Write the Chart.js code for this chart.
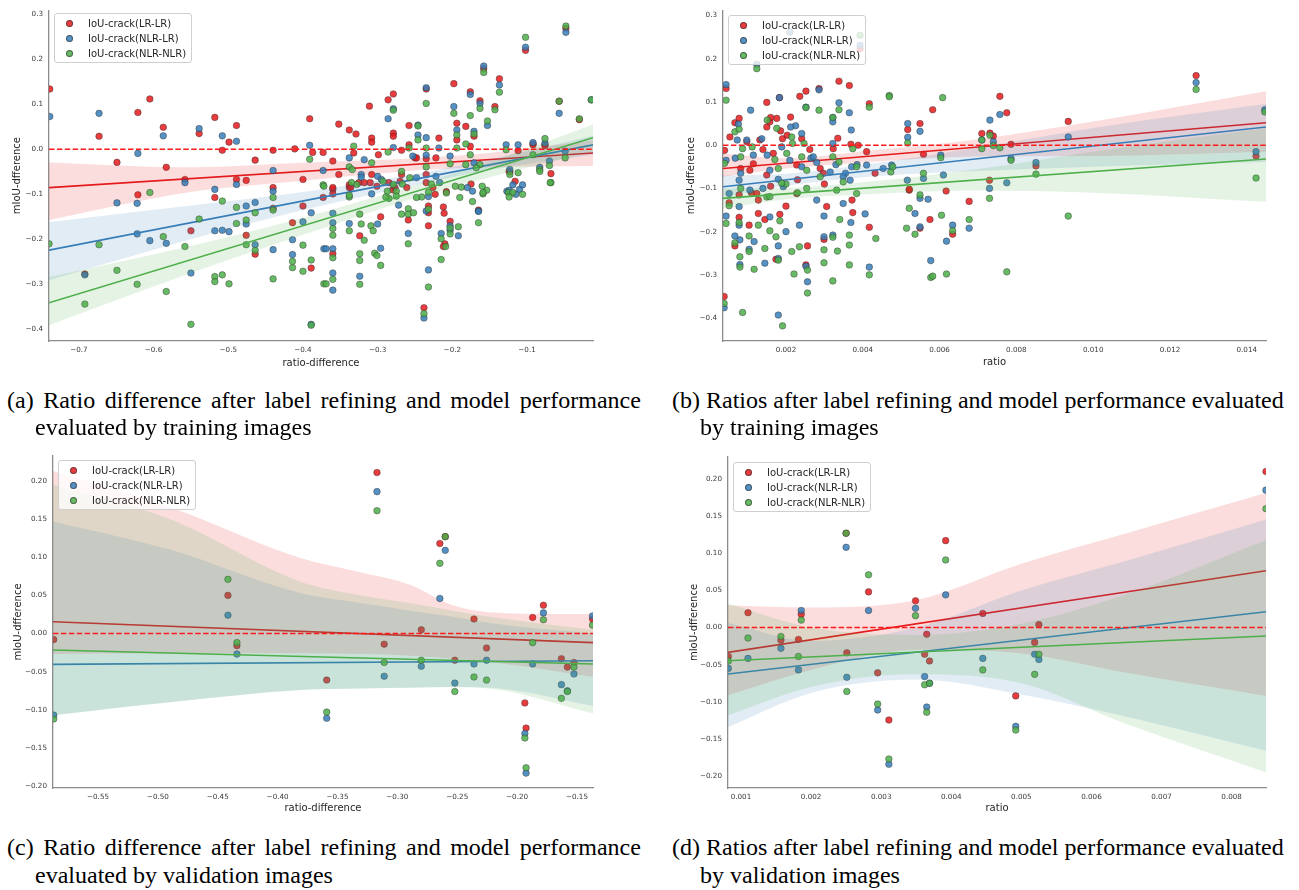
<!DOCTYPE html>
<html><head><meta charset="utf-8">
<script src="https://cdn.jsdelivr.net/npm/chart.js@4.4.1/dist/chart.umd.min.js"></script>
<style>
html,body{margin:0;padding:0;background:#fff;}
body{width:1299px;height:890px;position:relative;overflow:hidden;}
canvas{position:absolute;}
.legend{position:absolute;background:rgba(255,255,255,0.8);border:1px solid #cfcfcf;border-radius:3px;box-sizing:border-box;font:10px "DejaVu Sans";color:#262626;z-index:2;width:138px;height:50px;}
.legend .dot{position:absolute;width:7px;height:7px;border-radius:50%;box-sizing:border-box;border:0.6px solid rgba(40,40,40,0.6);}
.legend .txt{position:absolute;white-space:nowrap;line-height:12px;}
.cap{position:absolute;font-family:"Liberation Serif","Times New Roman",serif;font-size:24px;color:#000;white-space:nowrap;line-height:27px;}
</style>
</head><body>
<script>
// ---------- shared ----------
const seriesNames = ['IoU-crack(LR-LR)', 'IoU-crack(NLR-LR)', 'IoU-crack(NLR-NLR)'];
const yTitle = 'mIoU-dfference';

// ---------- (a) training images: ratio-difference ----------
const aXRange = [-0.740, -0.0117];
const aYRange = [-0.426, 0.309];
const aXTicks = [-0.7, -0.6, -0.5, -0.4, -0.3, -0.2, -0.1];
const aYTicks = [-0.4, -0.3, -0.2, -0.1, 0.0, 0.1, 0.2, 0.3];
const aRed = [[-0.739,0.134],[-0.673,0.029],[-0.649,-0.029],[-0.621,0.082],[-0.621,-0.101],[-0.605,0.112],[-0.587,0.049],[-0.583,-0.040],[-0.558,-0.067],[-0.539,0.035],[-0.518,0.071],[-0.518,-0.107],[-0.508,-0.002],[-0.499,0.016],[-0.489,0.053],[-0.489,-0.067],[-0.476,-0.069],[-0.464,-0.024],[-0.440,-0.085],[-0.440,-0.002],[-0.411,0.001],[-0.400,-0.067],[-0.391,0.068],[-0.387,-0.007],[-0.373,-0.007],[-0.373,-0.107],[-0.692,-0.277],[-0.550,-0.181],[-0.476,-0.191],[-0.464,-0.233],[-0.440,-0.131],[-0.414,-0.163],[-0.400,-0.126],[-0.389,-0.264],[-0.360,-0.026],[-0.360,-0.089],[-0.360,-0.099],[-0.352,0.056],[-0.352,-0.056],[-0.338,0.043],[-0.332,-0.008],[-0.329,0.034],[-0.311,0.096],[-0.308,0.025],[-0.308,0.016],[-0.308,-0.056],[-0.299,-0.012],[-0.286,0.110],[-0.279,0.123],[-0.279,0.036],[-0.279,0.029],[-0.268,-0.002],[-0.268,-0.056],[-0.258,0.053],[-0.258,0.010],[-0.250,-0.019],[-0.235,0.134],[-0.235,-0.021],[-0.235,-0.056],[-0.222,-0.019],[-0.218,0.025],[-0.198,0.146],[-0.194,0.058],[-0.194,0.021],[-0.182,0.051],[-0.176,0.128],[-0.176,0.007],[-0.171,0.029],[-0.163,0.108],[-0.158,0.179],[-0.143,0.095],[-0.137,0.157],[-0.123,-0.050],[-0.112,-0.003],[-0.102,0.220],[-0.092,0.012],[-0.076,0.010],[-0.068,-0.054],[-0.057,0.107],[-0.048,0.269],[-0.030,0.066],[-0.175,-0.077],[-0.208,-0.094],[-0.235,-0.074],[-0.261,-0.085],[-0.310,-0.074],[-0.325,-0.074],[-0.338,-0.085],[-0.360,-0.232],[-0.338,-0.079],[-0.324,-0.192],[-0.296,-0.150],[-0.280,-0.090],[-0.259,-0.157],[-0.238,-0.352],[-0.232,-0.170],[-0.232,-0.126],[-0.210,-0.210],[-0.203,-0.160],[-0.212,-0.128],[-0.165,-0.135],[-0.116,-0.071],[-0.223,-0.100],[-0.226,-0.085],[-0.270,-0.071],[-0.285,-0.074],[-0.301,-0.082],[-0.318,-0.074],[-0.336,-0.085],[-0.360,-0.085],[-0.248,-0.019],[-0.124,-0.049],[-0.092,0.010],[-0.076,0.008],[-0.277,-0.085],[-0.232,-0.141],[-0.212,-0.216],[-0.211,-0.142]];
const aBlue = [[-0.739,0.073],[-0.673,0.080],[-0.621,-0.009],[-0.587,0.030],[-0.558,-0.074],[-0.539,0.046],[-0.518,-0.089],[-0.508,0.030],[-0.489,0.018],[-0.489,-0.078],[-0.440,-0.093],[-0.440,-0.047],[-0.391,0.009],[-0.373,-0.047],[-0.692,-0.279],[-0.649,-0.119],[-0.622,-0.120],[-0.622,-0.188],[-0.605,-0.203],[-0.583,-0.209],[-0.550,-0.275],[-0.518,-0.181],[-0.508,-0.180],[-0.499,-0.183],[-0.476,-0.126],[-0.476,-0.166],[-0.464,-0.118],[-0.464,-0.212],[-0.440,-0.223],[-0.414,-0.234],[-0.414,-0.201],[-0.400,-0.161],[-0.389,-0.389],[-0.389,-0.141],[-0.372,-0.221],[-0.338,-0.019],[-0.322,-0.056],[-0.318,-0.023],[-0.308,-0.099],[-0.286,0.068],[-0.279,0.090],[-0.279,0.004],[-0.253,-0.015],[-0.248,-0.063],[-0.246,0.054],[-0.246,0.032],[-0.235,0.137],[-0.235,0.026],[-0.235,-0.013],[-0.203,-0.015],[-0.198,0.095],[-0.194,0.043],[-0.176,0.122],[-0.171,0.040],[-0.171,-0.030],[-0.163,0.102],[-0.158,0.185],[-0.153,0.053],[-0.137,0.143],[-0.128,0.010],[-0.123,-0.045],[-0.112,0.010],[-0.102,0.227],[-0.092,0.015],[-0.083,-0.040],[-0.076,0.014],[-0.070,-0.026],[-0.057,0.080],[-0.049,-0.004],[-0.048,0.260],[-0.014,0.110],[-0.119,-0.079],[-0.127,-0.093],[-0.180,-0.085],[-0.222,-0.060],[-0.300,-0.060],[-0.360,-0.221],[-0.360,-0.142],[-0.360,-0.163],[-0.360,-0.275],[-0.360,-0.313],[-0.369,-0.221],[-0.338,-0.165],[-0.324,-0.282],[-0.296,-0.220],[-0.272,-0.124],[-0.259,-0.187],[-0.232,-0.268],[-0.238,-0.375],[-0.232,-0.105],[-0.215,-0.187],[-0.203,-0.170],[-0.192,-0.192],[-0.173,-0.093],[-0.165,-0.137],[-0.124,-0.091],[-0.110,-0.089],[-0.106,-0.079],[-0.217,-0.074],[-0.295,-0.067],[-0.322,-0.062],[-0.218,0.003],[-0.300,-0.166],[-0.235,-0.137],[-0.203,-0.180],[-0.165,-0.138],[-0.115,-0.100]];
const aGreen = [[-0.605,-0.096],[-0.508,-0.115],[-0.440,-0.107],[-0.391,-0.022],[-0.373,-0.079],[-0.740,-0.210],[-0.692,-0.344],[-0.673,-0.212],[-0.649,-0.269],[-0.622,-0.300],[-0.587,-0.194],[-0.583,-0.316],[-0.558,-0.216],[-0.550,-0.389],[-0.539,-0.155],[-0.518,-0.283],[-0.518,-0.294],[-0.508,-0.279],[-0.499,-0.299],[-0.489,-0.129],[-0.489,-0.165],[-0.476,-0.157],[-0.476,-0.212],[-0.464,-0.141],[-0.464,-0.225],[-0.440,-0.288],[-0.440,-0.135],[-0.414,-0.263],[-0.414,-0.249],[-0.400,-0.213],[-0.400,-0.271],[-0.389,-0.246],[-0.389,-0.391],[-0.372,-0.082],[-0.372,-0.299],[-0.338,-0.039],[-0.332,0.007],[-0.308,-0.030],[-0.293,-0.071],[-0.286,-0.006],[-0.279,0.087],[-0.268,-0.049],[-0.258,0.003],[-0.246,0.052],[-0.246,0.021],[-0.235,0.102],[-0.235,0.003],[-0.235,-0.039],[-0.203,-0.032],[-0.198,0.080],[-0.194,0.032],[-0.194,0.003],[-0.182,0.012],[-0.182,-0.034],[-0.176,0.075],[-0.176,-0.012],[-0.171,0.034],[-0.163,0.091],[-0.163,-0.034],[-0.158,0.171],[-0.153,0.063],[-0.143,0.088],[-0.137,0.127],[-0.128,-0.001],[-0.123,-0.056],[-0.112,-0.052],[-0.102,0.249],[-0.092,-0.012],[-0.083,-0.045],[-0.076,0.024],[-0.070,-0.036],[-0.068,-0.074],[-0.057,0.107],[-0.048,0.274],[-0.049,-0.019],[-0.030,0.068],[-0.014,0.110],[-0.154,-0.091],[-0.208,-0.097],[-0.338,-0.106],[-0.125,-0.096],[-0.119,-0.096],[-0.360,-0.241],[-0.360,-0.191],[-0.360,-0.289],[-0.369,-0.299],[-0.338,-0.181],[-0.338,-0.102],[-0.324,-0.144],[-0.324,-0.232],[-0.324,-0.247],[-0.324,-0.300],[-0.318,-0.202],[-0.309,-0.170],[-0.304,-0.231],[-0.296,-0.258],[-0.285,-0.109],[-0.268,-0.144],[-0.259,-0.210],[-0.259,-0.132],[-0.232,-0.306],[-0.238,-0.365],[-0.232,-0.095],[-0.215,-0.199],[-0.209,-0.216],[-0.215,-0.245],[-0.203,-0.175],[-0.192,-0.172],[-0.188,-0.084],[-0.173,-0.116],[-0.165,-0.163],[-0.160,-0.082],[-0.124,-0.106],[-0.106,-0.100],[-0.069,-0.074],[-0.159,-0.099],[-0.168,-0.041],[-0.190,-0.107],[-0.196,-0.082],[-0.228,-0.077],[-0.241,-0.106],[-0.248,-0.107],[-0.257,-0.063],[-0.267,-0.077],[-0.275,-0.093],[-0.279,-0.078],[-0.287,-0.093],[-0.289,-0.106],[-0.328,-0.078],[-0.335,-0.074],[-0.334,-0.045],[-0.083,-0.049],[-0.360,-0.176],[-0.322,-0.166],[-0.306,-0.181],[-0.301,-0.236],[-0.275,-0.104],[-0.259,-0.144],[-0.252,-0.141],[-0.232,-0.133],[-0.203,-0.188],[-0.159,-0.096]];
const aRedLine = [[-0.740,-0.085],[-0.0117,-0.008]];
const aBlueLine = [[-0.740,-0.224],[-0.0117,0.010]];
const aGreenLine = [[-0.740,-0.341],[-0.0117,0.026]];
const aBandX = [-0.740, -0.55, -0.40, -0.25, -0.15, -0.0117];
const aRedUpper = [-0.029, -0.040, -0.030, -0.020, -0.008, 0.020];
const aRedLower = [-0.157, -0.095, -0.070, -0.047, -0.040, -0.037];
const aBlueUpper = [-0.162, -0.125, -0.095, -0.055, -0.022, 0.030];
const aBlueLower = [-0.291, -0.200, -0.135, -0.080, -0.046, -0.012];
const aGreenUpper = [-0.284, -0.215, -0.152, -0.080, -0.028, 0.055];
const aGreenLower = [-0.391, -0.275, -0.190, -0.108, -0.062, -0.005];

// ---------- (b) training images: ratio ----------
const bXRange = [0.00036, 0.0145];
const bYRange = [-0.453, 0.312];
const bXTicks = [0.002, 0.004, 0.006, 0.008, 0.010, 0.012, 0.014];
const bYTicks = [-0.4, -0.3, -0.2, -0.1, 0.0, 0.1, 0.2, 0.3];
const bRed = [[0.00044,0.131],[0.00150,0.099],[0.00183,0.110],[0.00150,0.042],[0.00236,0.113],[0.00252,0.125],[0.00286,0.131],[0.00338,0.148],[0.00365,0.138],[0.00393,0.223],[0.00417,0.096],[0.00517,0.036],[0.00549,0.050],[0.00582,0.082],[0.00558,-0.021],[0.00521,-0.104],[0.00757,0.113],[0.00775,0.075],[0.00731,0.028],[0.00740,0.021],[0.00710,0.027],[0.00786,0.002],[0.00730,-0.081],[0.00677,-0.130],[0.00851,-0.048],[0.00935,0.055],[0.01268,0.161],[0.01424,-0.025],[0.00039,-0.350],[0.00052,-0.133],[0.00067,-0.233],[0.00078,-0.167],[0.00104,-0.185],[0.00128,-0.158],[0.00128,-0.127],[0.00145,-0.172],[0.00174,-0.264],[0.00184,-0.160],[0.00200,-0.141],[0.00252,-0.277],[0.00256,-0.233],[0.00299,-0.218],[0.00374,-0.156],[0.00417,-0.190],[0.00549,-0.192],[0.00575,-0.172],[0.00634,-0.206],[0.00617,-0.106],[0.00521,-0.102],[0.00054,0.019],[0.00067,0.052],[0.00078,0.062],[0.00040,-0.012],[0.00082,-0.054],[0.00106,-0.058],[0.00115,-0.043],[0.00140,-0.010],[0.00176,0.062],[0.00186,0.033],[0.00212,0.065],[0.00228,-0.046],[0.00241,0.015],[0.00150,-0.069],[0.00262,-0.010],[0.00289,-0.054],[0.00335,0.016],[0.00369,0.002],[0.00410,-0.015],[0.00432,-0.065],[0.00372,-0.127],[0.00300,-0.090],[0.00230,-0.080],[0.00160,-0.095],[0.00110,-0.110],[0.00158,0.054],[0.00191,0.015],[0.00203,0.023],[0.00167,-0.019],[0.00297,-0.065],[0.00323,-0.008],[0.00388,0.000],[0.00098,0.008],[0.00078,-0.115],[0.00132,0.012],[0.00160,0.064],[0.00124,-0.112],[0.00228,-0.112],[0.00306,-0.142]];
const bBlue = [[0.00044,0.140],[0.00124,0.187],[0.00108,0.081],[0.00183,0.110],[0.00210,0.262],[0.00252,0.088],[0.00286,0.128],[0.00322,0.064],[0.00322,0.054],[0.00338,0.098],[0.00365,0.075],[0.00370,0.035],[0.00393,0.231],[0.00517,0.050],[0.00517,0.018],[0.00549,0.032],[0.00603,-0.023],[0.00757,0.071],[0.00731,0.058],[0.00740,0.008],[0.00710,0.012],[0.00786,-0.031],[0.00775,-0.087],[0.00730,-0.100],[0.00677,-0.192],[0.00851,-0.040],[0.00935,0.019],[0.01268,0.145],[0.01424,-0.015],[0.01447,0.082],[0.00039,-0.376],[0.00044,-0.164],[0.00052,-0.112],[0.00067,-0.210],[0.00080,-0.219],[0.00080,-0.276],[0.00078,-0.185],[0.00078,-0.142],[0.00104,-0.241],[0.00117,-0.223],[0.00145,-0.273],[0.00158,-0.166],[0.00180,-0.393],[0.00180,-0.233],[0.00180,-0.262],[0.00200,-0.200],[0.00235,-0.185],[0.00256,-0.316],[0.00252,-0.280],[0.00299,-0.164],[0.00299,-0.212],[0.00322,-0.208],[0.00369,-0.179],[0.00406,-0.159],[0.00417,-0.282],[0.00549,-0.189],[0.00536,-0.158],[0.00577,-0.267],[0.00618,-0.222],[0.00634,-0.185],[0.00549,-0.123],[0.00570,-0.125],[0.00073,0.012],[0.00068,-0.030],[0.00082,-0.065],[0.00115,-0.023],[0.00137,0.015],[0.00151,-0.023],[0.00189,-0.004],[0.00210,-0.035],[0.00225,0.045],[0.00265,-0.030],[0.00280,-0.040],[0.00322,0.004],[0.00330,-0.045],[0.00355,-0.065],[0.00367,-0.081],[0.00385,-0.045],[0.00410,-0.046],[0.00453,-0.054],[0.00475,-0.046],[0.00516,-0.081],[0.00558,-0.077],[0.00180,-0.079],[0.00140,-0.100],[0.00212,0.042],[0.00241,-0.050],[0.00241,0.027],[0.00158,-0.058],[0.00271,-0.027],[0.00315,-0.062],[0.00349,-0.073],[0.00371,-0.050],[0.00610,-0.069],[0.00076,0.049],[0.00098,0.012],[0.00044,-0.035],[0.00078,-0.081],[0.00106,-0.104],[0.00193,-0.096],[0.00280,-0.127],[0.00349,-0.135]];
const bGreen = [[0.00044,0.104],[0.00124,0.177],[0.00252,0.087],[0.00286,0.081],[0.00322,0.064],[0.00338,0.082],[0.00393,0.254],[0.00417,0.088],[0.00469,0.115],[0.00469,0.112],[0.00517,0.005],[0.00608,0.110],[0.00603,-0.029],[0.00731,0.023],[0.00740,-0.001],[0.00710,0.012],[0.00710,-0.008],[0.00757,-0.006],[0.00786,-0.035],[0.00730,-0.123],[0.00677,-0.172],[0.00775,-0.293],[0.00851,-0.067],[0.00935,-0.164],[0.01268,0.129],[0.01424,-0.076],[0.01447,0.077],[0.00039,-0.366],[0.00044,-0.181],[0.00052,-0.140],[0.00067,-0.226],[0.00080,-0.258],[0.00080,-0.282],[0.00078,-0.179],[0.00087,-0.387],[0.00104,-0.210],[0.00104,-0.246],[0.00117,-0.287],[0.00128,-0.185],[0.00145,-0.239],[0.00158,-0.198],[0.00174,-0.212],[0.00180,-0.266],[0.00184,-0.175],[0.00191,-0.418],[0.00215,-0.246],[0.00221,-0.298],[0.00235,-0.235],[0.00256,-0.289],[0.00256,-0.342],[0.00299,-0.242],[0.00299,-0.272],[0.00322,-0.213],[0.00322,-0.314],[0.00334,-0.245],[0.00340,-0.172],[0.00365,-0.208],[0.00365,-0.231],[0.00365,-0.277],[0.00417,-0.300],[0.00434,-0.216],[0.00514,-0.192],[0.00536,-0.206],[0.00521,-0.146],[0.00549,-0.115],[0.00577,-0.306],[0.00582,-0.303],[0.00605,-0.162],[0.00618,-0.298],[0.00634,-0.198],[0.00067,0.031],[0.00078,0.037],[0.00087,-0.008],[0.00040,-0.042],[0.00082,-0.027],[0.00082,-0.100],[0.00112,-0.004],[0.00151,0.058],[0.00171,-0.033],[0.00254,-0.058],[0.00289,-0.073],[0.00322,-0.027],[0.00338,-0.039],[0.00384,-0.050],[0.00473,-0.062],[0.00558,-0.065],[0.00200,-0.090],[0.00150,-0.120],[0.00230,-0.110],[0.00215,0.019],[0.00217,0.004],[0.00202,-0.019],[0.00241,-0.027],[0.00247,0.004],[0.00180,-0.054],[0.00189,-0.088],[0.00349,-0.085],[0.00374,-0.008],[0.00478,-0.050],[0.00176,0.039],[0.00158,-0.119],[0.00254,-0.100],[0.00332,-0.104],[0.00384,-0.112]];
const bRedLine = [[0.00036,-0.054],[0.0145,0.052]];
const bBlueLine = [[0.00036,-0.096],[0.0145,0.042]];
const bGreenLine = [[0.00036,-0.123],[0.0145,-0.032]];
const bBandX = [0.00036, 0.002, 0.004, 0.007, 0.010, 0.0145];
const bRedUpper = [-0.019, -0.030, -0.014, 0.014, 0.055, 0.125];
const bRedLower = [-0.073, -0.054, -0.040, -0.026, -0.025, -0.015];
const bBlueUpper = [-0.070, -0.066, -0.046, -0.005, 0.040, 0.096];
const bBlueLower = [-0.120, -0.094, -0.074, -0.060, -0.050, -0.039];
const bGreenUpper = [-0.100, -0.099, -0.086, -0.055, -0.015, 0.039];
const bGreenLower = [-0.146, -0.125, -0.114, -0.105, -0.110, -0.131];

// ---------- (c) validation images: ratio-difference ----------
const cXRange = [-0.5876, -0.1366];
const cYRange = [-0.2025, 0.2327];
const cXTicks = [-0.55, -0.50, -0.45, -0.40, -0.35, -0.30, -0.25, -0.20, -0.15];
const cYTicks = [-0.20, -0.15, -0.10, -0.05, 0.00, 0.05, 0.10, 0.15, 0.20];
const cRed = [[-0.587,-0.008],[-0.4415,0.050],[-0.434,-0.016],[-0.359,-0.061],[-0.317,0.211],[-0.311,-0.014],[-0.280,0.005],[-0.2645,0.118],[-0.260,0.127],[-0.252,-0.035],[-0.236,0.019],[-0.2255,-0.019],[-0.1935,-0.091],[-0.1925,-0.124],[-0.187,0.021],[-0.178,0.037],[-0.163,-0.033],[-0.158,-0.044],[-0.1525,-0.038],[-0.137,0.019]];
const cBlue = [[-0.587,-0.107],[-0.4415,0.024],[-0.434,-0.027],[-0.359,-0.111],[-0.317,0.186],[-0.311,-0.056],[-0.280,-0.043],[-0.2645,0.046],[-0.260,0.109],[-0.252,-0.065],[-0.236,-0.040],[-0.2255,-0.035],[-0.1935,-0.131],[-0.1925,-0.183],[-0.187,-0.040],[-0.178,0.027],[-0.163,-0.067],[-0.158,-0.075],[-0.1525,-0.053],[-0.137,0.023]];
const cGreen = [[-0.587,-0.112],[-0.4415,0.071],[-0.434,-0.012],[-0.359,-0.103],[-0.317,0.161],[-0.311,-0.038],[-0.280,-0.035],[-0.2645,0.092],[-0.260,0.127],[-0.252,-0.076],[-0.236,-0.057],[-0.2255,-0.061],[-0.1935,-0.137],[-0.1925,-0.176],[-0.187,-0.012],[-0.178,0.018],[-0.163,-0.085],[-0.158,-0.076],[-0.1525,-0.044],[-0.137,0.011]];
const cRedLine = [[-0.5876,0.0155],[-0.1366,-0.012]];
const cBlueLine = [[-0.5876,-0.0404],[-0.1366,-0.0356]];
const cGreenLine = [[-0.5876,-0.0216],[-0.1366,-0.040]];
const cBandX = [-0.5876, -0.49, -0.381, -0.33, -0.2895, -0.2536, -0.2143, -0.1366];
const cRedUpper = [0.213, 0.166, 0.099, 0.080, 0.064, 0.037, 0.027, 0.0255];
const cRedLower = [-0.027, -0.026, -0.026, -0.027, -0.029, -0.033, -0.039, -0.057];
const cBlueUpper = [0.147, 0.110, 0.053, 0.040, 0.030, 0.022, 0.012, 0.000];
const cBlueLower = [-0.107, -0.090, -0.074, -0.072, -0.071, -0.070, -0.072, -0.095];
const cGreenUpper = [0.195, 0.150, 0.068, 0.050, 0.040, 0.030, 0.020, 0.005];
const cGreenLower = [-0.107, -0.090, -0.074, -0.072, -0.071, -0.070, -0.074, -0.105];

// ---------- (d) validation images: ratio ----------
const dXRange = [0.000815, 0.00849];
const dYRange = [-0.216, 0.2296];
const dXTicks = [0.001, 0.002, 0.003, 0.004, 0.005, 0.006, 0.007, 0.008];
const dYTicks = [-0.20, -0.15, -0.10, -0.05, 0.00, 0.05, 0.10, 0.15, 0.20];
const dRed = [[0.00082,-0.039],[0.0011,0.020],[0.00157,-0.017],[0.00186,0.018],[0.00182,-0.016],[0.0025,0.127],[0.00251,-0.034],[0.00282,0.048],[0.00295,-0.061],[0.00311,-0.1245],[0.00349,0.036],[0.00362,-0.036],[0.00365,-0.009],[0.00369,-0.045],[0.00392,0.117],[0.00445,0.019],[0.00492,-0.092],[0.00519,-0.020],[0.00525,0.004],[0.00849,0.210]];
const dBlue = [[0.00082,-0.055],[0.0011,-0.0415],[0.00157,-0.028],[0.00186,0.023],[0.00182,-0.057],[0.0025,0.108],[0.00251,-0.067],[0.00282,0.023],[0.00295,-0.111],[0.00311,-0.184],[0.00349,0.026],[0.00362,-0.066],[0.00365,-0.107],[0.00369,-0.075],[0.00392,0.044],[0.00445,-0.0415],[0.00492,-0.133],[0.00519,-0.036],[0.00525,-0.043],[0.00849,0.185]];
const dGreen = [[0.00082,-0.045],[0.0011,-0.014],[0.00157,-0.012],[0.00186,0.010],[0.00182,-0.039],[0.0025,0.127],[0.00251,-0.086],[0.00282,0.071],[0.00295,-0.103],[0.00311,-0.177],[0.00349,0.016],[0.00362,-0.077],[0.00365,-0.114],[0.00369,-0.075],[0.00392,0.091],[0.00445,-0.057],[0.00492,-0.138],[0.00519,-0.063],[0.00525,-0.036],[0.00849,0.160]];
const dRedLine = [[0.000815,-0.0334],[0.00849,0.0765]];
const dBlueLine = [[0.000815,-0.0626],[0.00849,0.0213]];
const dGreenLine = [[0.000815,-0.0447],[0.00849,-0.0114]];
const dBandX = [0.000815, 0.002, 0.0035, 0.005, 0.0065, 0.00849];
const dRedUpper = [0.030, 0.027, 0.037, 0.086, 0.127, 0.181];
const dRedLower = [-0.091, -0.057, -0.030, -0.035, -0.061, -0.092];
const dBlueUpper = [0.006, -0.018, 0.000, 0.050, 0.090, 0.1456];
const dBlueLower = [-0.134, -0.088, -0.070, -0.090, -0.120, -0.166];
const dGreenUpper = [0.032, 0.000, -0.010, 0.005, 0.045, 0.118];
const dGreenLower = [-0.118, -0.080, -0.063, -0.075, -0.130, -0.195];

// ---------- drawing ----------
const COLORS = ['#e41a1c', '#377eb8', '#4daf4a'];
const AXIS = '#8c8c8c', TICK = '#3a3a3a', LAB = '#262626';
function rgba(hex, a) {
  const n = parseInt(hex.slice(1), 16);
  return `rgba(${(n >> 16) & 255},${(n >> 8) & 255},${n & 255},${a})`;
}
function fmt(v, d) {
  if (Math.abs(v) < 1e-12) return (0).toFixed(d);
  return (v < 0 ? '\u2212' : '') + Math.abs(v).toFixed(d);
}
const xy = arr => arr.map(p => ({x: p[0], y: p[1]}));
const bandPts = (xs, ys) => xs.map((x, i) => ({x: x, y: ys[i]}));

function build(p) {
  const cv = document.createElement('canvas');
  cv.width = p.w; cv.height = p.h;
  cv.style.left = p.left + 'px'; cv.style.top = p.top + 'px';
  cv.style.width = p.w + 'px'; cv.style.height = p.h + 'px';
  document.body.appendChild(cv);
  const ds = [];
  let k = 0;
  p.series.forEach((s, i) => {
    const c = COLORS[i];
    ds.push({type: 'scatter', label: seriesNames[i], data: xy(s.pts), backgroundColor: rgba(c, 0.85),
      borderColor: 'rgba(45,45,45,0.7)', borderWidth: 0.6, pointRadius: 3.3, order: -(k++)});
    ds.push({type: 'line', data: bandPts(p.bandX, s.upper), borderWidth: 0, pointRadius: 0, fill: false,
      cubicInterpolationMode: 'monotone', order: -(k++)});
    ds.push({type: 'line', data: bandPts(p.bandX, s.lower), borderWidth: 0, pointRadius: 0, fill: '-1',
      backgroundColor: rgba(c, 0.15), cubicInterpolationMode: 'monotone', order: -(k++)});
    ds.push({type: 'line', data: xy(s.line), borderColor: c, borderWidth: 1.6, pointRadius: 0, fill: false, order: -(k++)});
  });
  ds.push({type: 'line', data: xy([[p.xRange[0], 0], [p.xRange[1], 0]]), borderColor: '#ff1a1a', borderWidth: 1.5,
    borderDash: [5.5, 2.4], pointRadius: 0, fill: false, order: -(k++)});

  new Chart(cv, {
    type: 'scatter',
    data: {datasets: ds},
    options: {
      responsive: false, animation: false, events: [],
      layout: {padding: {top: p.padTop, right: p.padRight, left: 0, bottom: 0}},
      plugins: {legend: {display: false}, tooltip: {enabled: false}},
      scales: {
        x: {type: 'linear', position: 'bottom', min: p.xRange[0], max: p.xRange[1],
          afterBuildTicks: s => { s.ticks = p.xTicks.map(v => ({value: v})); },
          afterFit: s => { s.height = p.xAxisH; },
          grid: {display: false, drawTicks: false}, border: {display: true, color: AXIS, width: 1.3},
          ticks: {autoSkip: false, maxRotation: 0, padding: p.xTickPad, color: TICK,
            font: {family: 'DejaVu Sans', size: 7.2}, callback: v => fmt(v, p.xDec)},
          title: {display: true, text: p.xTitle, color: LAB, font: {family: 'DejaVu Sans', size: 10},
            padding: {top: 0, bottom: p.xTitlePad}}},
        y: {type: 'linear', position: 'left', min: p.yRange[0], max: p.yRange[1],
          afterBuildTicks: s => { s.ticks = p.yTicks.map(v => ({value: v})); },
          afterFit: s => { s.width = p.yAxisW; },
          grid: {display: false, drawTicks: false}, border: {display: true, color: AXIS, width: 1.3},
          ticks: {autoSkip: false, padding: 6, color: TICK,
            font: {family: 'DejaVu Sans', size: 7.2}, callback: v => fmt(v, p.yDec)},
          title: {display: true, text: yTitle, color: LAB, font: {family: 'DejaVu Sans', size: 10},
            padding: {top: p.yTitlePad, bottom: 0}}}
      }
    }
  });

  const lg = document.createElement('div');
  lg.className = 'legend';
  lg.style.left = p.legend[0] + 'px'; lg.style.top = p.legend[1] + 'px';
  seriesNames.forEach((name, i) => {
    const dot = document.createElement('div');
    dot.className = 'dot';
    dot.style.background = rgba(COLORS[i], 0.85);
    dot.style.left = '11px'; dot.style.top = (6 + 15 * i) + 'px';
    const t = document.createElement('div');
    t.className = 'txt';
    t.textContent = name;
    t.style.left = '33px'; t.style.top = (3.5 + 15 * i) + 'px';
    lg.appendChild(dot); lg.appendChild(t);
  });
  document.body.appendChild(lg);
}

build({left: 0, top: 0, w: 600, h: 375, padTop: 8, padRight: 7, yAxisW: 49, xAxisH: 34,
  xRange: aXRange, yRange: aYRange, xTicks: aXTicks, yTicks: aYTicks, xDec: 1, yDec: 1,
  xTitle: 'ratio-difference', xTickPad: 5, xTitlePad: 6, yTitlePad: 11.5, legend: [54, 13],
  bandX: aBandX,
  series: [
    {pts: aRed, line: aRedLine, upper: aRedUpper, lower: aRedLower},
    {pts: aBlue, line: aBlueLine, upper: aBlueUpper, lower: aBlueLower},
    {pts: aGreen, line: aGreenLine, upper: aGreenUpper, lower: aGreenLower}]});

build({left: 675, top: 0, w: 605, h: 375, padTop: 10, padRight: 14, yAxisW: 48, xAxisH: 34,
  xRange: bXRange, yRange: bYRange, xTicks: bXTicks, yTicks: bYTicks, xDec: 3, yDec: 1,
  xTitle: 'ratio', xTickPad: 5, xTitlePad: 7, yTitlePad: 10.5, legend: [728, 15],
  bandX: bBandX,
  series: [
    {pts: bRed, line: bRedLine, upper: bRedUpper, lower: bRedLower},
    {pts: bBlue, line: bBlueLine, upper: bBlueUpper, lower: bBlueLower},
    {pts: bGreen, line: bGreenLine, upper: bGreenUpper, lower: bGreenLower}]});

build({left: 0, top: 440, w: 600, h: 380, padTop: 16, padRight: 7, yAxisW: 53, xAxisH: 32,
  xRange: cXRange, yRange: cYRange, xTicks: cXTicks, yTicks: cYTicks, xDec: 2, yDec: 2,
  xTitle: 'ratio-difference', xTickPad: 4.4, xTitlePad: 6, yTitlePad: 12, legend: [58, 460],
  bandX: cBandX,
  series: [
    {pts: cRed, line: cRedLine, upper: cRedUpper, lower: cRedLower},
    {pts: cBlue, line: cBlueLine, upper: cBlueUpper, lower: cBlueLower},
    {pts: cGreen, line: cGreenLine, upper: cGreenUpper, lower: cGreenLower}]});

build({left: 675, top: 440, w: 605, h: 380, padTop: 17, padRight: 14, yAxisW: 53, xAxisH: 32,
  xRange: dXRange, yRange: dYRange, xTicks: dXTicks, yTicks: dYTicks, xDec: 3, yDec: 2,
  xTitle: 'ratio', xTickPad: 4.4, xTitlePad: 6, yTitlePad: 13, legend: [733, 462],
  bandX: dBandX,
  series: [
    {pts: dRed, line: dRedLine, upper: dRedUpper, lower: dRedLower},
    {pts: dBlue, line: dBlueLine, upper: dBlueUpper, lower: dBlueLower},
    {pts: dGreen, line: dGreenLine, upper: dGreenUpper, lower: dGreenLower}]});

// ---------- captions ----------
const captions = [
  [7, 387, '(a) Ratio difference after label refining and model performance', 3.5],
  [35, 414, 'evaluated by training images', 0],
  [672, 387, '(b) Ratios after label refining and model performance evaluated', 0],
  [700, 414, 'by training images', 0],
  [7, 834, '(c) Ratio difference after label refining and model performance', 3.5],
  [35, 862, 'evaluated by validation images', 0],
  [672, 834, '(d) Ratios after label refining and model performance evaluated', 0],
  [700, 862, 'by validation images', 0]
];
captions.forEach(c => {
  const d = document.createElement('div');
  d.className = 'cap';
  d.style.left = c[0] + 'px'; d.style.top = c[1] + 'px';
  d.style.wordSpacing = c[3] + 'px';
  d.textContent = c[2];
  document.body.appendChild(d);
});
</script>
</body></html>
